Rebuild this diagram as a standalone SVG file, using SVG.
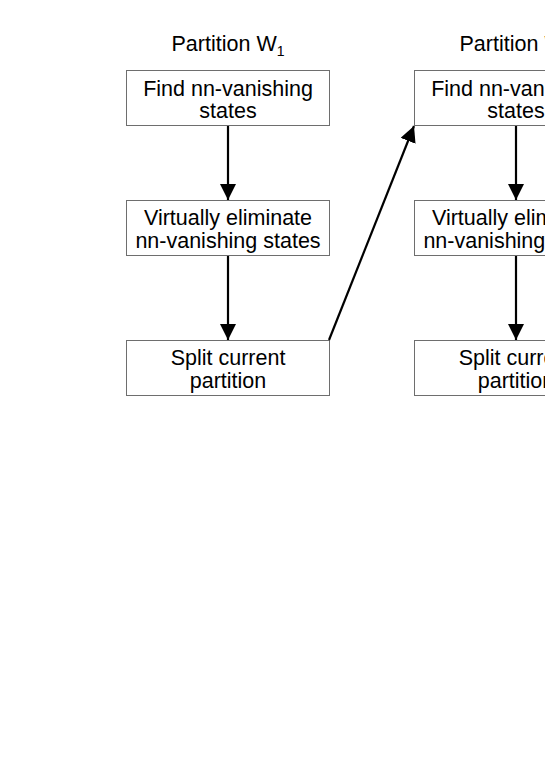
<svg xmlns="http://www.w3.org/2000/svg" width="545" height="770" viewBox="0 0 545 770">
<defs>
<style>
.box{fill:#fff;stroke:#6e6e6e;stroke-width:1}
text{font-family:"Liberation Sans",Arial,sans-serif;font-size:21.5px;fill:#000;text-anchor:middle}
.c{stroke:#000;stroke-width:2.2;fill:none}
</style>
<marker id="a" markerWidth="16" markerHeight="16" viewBox="0 0 16 16" refX="16" refY="8" orient="auto" markerUnits="userSpaceOnUse">
<path d="M0,0 L16,8 L0,16 z" fill="#000"/>
</marker>
</defs>
<rect width="545" height="770" fill="#fff"/>
<g id="title1"><text x="228" y="51">Partition W<tspan font-size="14" dy="5">1</tspan></text></g>
<g id="title2"><text x="516" y="51">Partition W<tspan font-size="14" dy="5">2</tspan></text></g>
<g id="n1"><rect class="box" x="126.5" y="70.5" width="203" height="55"/><text x="228" y="96">Find nn-vanishing</text><text x="228" y="118">states</text></g>
<g id="n2"><rect class="box" x="126.5" y="200.5" width="203" height="55"/><text x="228" y="225">Virtually eliminate</text><text x="228" y="248">nn-vanishing states</text></g>
<g id="n3"><rect class="box" x="126.5" y="340.5" width="203" height="55"/><text x="228" y="365">Split current</text><text x="228" y="388">partition</text></g>
<g id="n4"><rect class="box" x="414.5" y="70.5" width="203" height="55"/><text x="516" y="96">Find nn-vanishing</text><text x="516" y="118">states</text></g>
<g id="n5"><rect class="box" x="414.5" y="200.5" width="203" height="55"/><text x="516" y="225">Virtually eliminate</text><text x="516" y="248">nn-vanishing states</text></g>
<g id="n6"><rect class="box" x="414.5" y="340.5" width="203" height="55"/><text x="516" y="365">Split current</text><text x="516" y="388">partition</text></g>
<g id="connectors">
<line class="c" x1="228" y1="126" x2="228" y2="200" marker-end="url(#a)"/>
<line class="c" x1="228" y1="256" x2="228" y2="340" marker-end="url(#a)"/>
<line class="c" x1="329" y1="340" x2="414" y2="126" marker-end="url(#a)"/>
<line class="c" x1="516" y1="126" x2="516" y2="200" marker-end="url(#a)"/>
<line class="c" x1="516" y1="256" x2="516" y2="340" marker-end="url(#a)"/>
</g>
</svg>
